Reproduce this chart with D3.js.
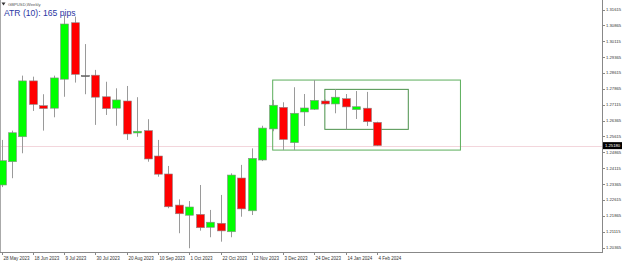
<!DOCTYPE html>
<html>
<head>
<meta charset="utf-8">
<script src="https://cdn.jsdelivr.net/npm/d3@7"></script>
<style>
  body { margin: 0; background: #fff; }
  svg { display: block; font-family: 'Liberation Sans', Arial, sans-serif; }
</style>
</head>
<body>
<div id="chart"></div>
<script>
// weekly GBPUSD bars
var opens  = [1.2332,1.2442,1.2560,1.2824,1.2707,1.2695,1.2832,1.3099,1.2849,1.2851,1.2749,1.2695,1.2729,1.2578,1.2589,1.2469,1.2384,1.2237,1.2189,1.2193,1.2132,1.2151,1.2111,1.2365,1.2210,1.2450,1.2597,1.2699,1.2532,1.2677,1.2690,1.2729,1.2715,1.2740,1.2688,1.2695,1.2628];
var highs  = [1.2545,1.2589,1.2849,1.2844,1.2761,1.2849,1.3136,1.3128,1.2998,1.2876,1.2820,1.2789,1.2800,1.2747,1.2643,1.2545,1.2422,1.2264,1.2256,1.2332,1.2214,1.2285,1.2387,1.2427,1.2505,1.2612,1.2734,1.2723,1.2794,1.2762,1.2828,1.2736,1.2784,1.2762,1.2776,1.2772,1.2631];
var lows   = [1.2322,1.2364,1.2482,1.2682,1.2589,1.2652,1.2749,1.2816,1.2761,1.2616,1.2663,1.2612,1.2545,1.2560,1.2442,1.2371,1.2222,1.2104,1.2033,1.2116,1.2085,1.2064,1.2085,1.2182,1.2190,1.2445,1.2586,1.2497,1.2497,1.2611,1.2687,1.2710,1.2671,1.2595,1.2644,1.2611,1.2516];
var closes = [1.2447,1.2579,1.2824,1.2713,1.2693,1.2838,1.3093,1.2855,1.2849,1.2747,1.2693,1.2734,1.2573,1.2586,1.2455,1.2383,1.2229,1.2196,1.2228,1.2130,1.2156,1.2115,1.2379,1.2219,1.2458,1.2601,1.2709,1.2547,1.2671,1.2696,1.2732,1.2715,1.2747,1.2701,1.2702,1.2631,1.2518];

// date labels every 3 bars
var dateLabels = ["28 May 2023","18 Jun 2023","9 Jul 2023","30 Jul 2023","20 Aug 2023","10 Sep 2023","1 Oct 2023","22 Oct 2023","12 Nov 2023","3 Dec 2023","24 Dec 2023","14 Jan 2024","4 Feb 2024"];
var priceTicks = [1.20365,1.21115,1.21865,1.22615,1.23365,1.24115,1.24865,1.25615,1.26365,1.27115,1.27865,1.28615,1.29365,1.30115,1.30865,1.31615];

// boxes drawn on the chart: [fromBar, toBar, top price, bottom price]
var boxOuter = [26, 44, 1.2828, 1.2497];
var boxInner = [31, 39, 1.2784, 1.2595];

var atrText = "ATR (10): 165 pips";
var symbolText = "GBPUSD,Weekly";

var width = 625, height = 263;
var plotRight = 602, plotBottom = 252;

var svg = d3.select("#chart").append("svg")
    .attr("width", width)
    .attr("height", height);

var x = d3.scaleLinear().domain([0, 36]).range([1.5, 377]);
var y = d3.scaleLinear().domain([1.20365, 1.31615]).range([247.5, 9.5]);

var bars = opens.map(function(o, i) {
    return {i: i, o: o, h: highs[i], l: lows[i], c: closes[i]};
});

// frame
svg.append("line")
    .attr("x1", 0.5).attr("x2", 0.5).attr("y1", 0).attr("y2", plotBottom)
    .style("stroke", "#aaa");
svg.append("line")
    .attr("x1", 0).attr("x2", plotRight).attr("y1", plotBottom + 0.5).attr("y2", plotBottom + 0.5)
    .style("stroke", "#888");
svg.append("line")
    .attr("x1", plotRight + 0.5).attr("x2", plotRight + 0.5).attr("y1", 0).attr("y2", plotBottom + 1)
    .style("stroke", "#888");

// bid line
var last = closes[closes.length - 1];
svg.append("line")
    .attr("x1", 1).attr("x2", plotRight)
    .attr("y1", Math.round(y(last)) + 0.5).attr("y2", Math.round(y(last)) + 0.5)
    .style("stroke", "#f3d6dc");

// boxes
function drawBox(b, color) {
    svg.append("rect")
        .attr("x", x(b[0]))
        .attr("y", y(b[2]))
        .attr("width", x(b[1]) - x(b[0]))
        .attr("height", y(b[3]) - y(b[2]))
        .style("fill", "none")
        .style("stroke", color)
        .style("stroke-width", 1);
}
drawBox(boxOuter, "#5cae5c");
drawBox(boxInner, "#4a904a");

// candles
var g = svg.selectAll(".bar")
    .data(bars)
    .enter().append("g")
    .attr("class", "bar");

g.append("line")
    .attr("x1", function(d) { return Math.round(x(d.i)) + 0.5; })
    .attr("x2", function(d) { return Math.round(x(d.i)) + 0.5; })
    .attr("y1", function(d) { return y(d.h); })
    .attr("y2", function(d) { return y(d.l); })
    .style("stroke", "#9a9a9a")
    .style("stroke-width", 1);

g.append("rect")
    .attr("x", function(d) { return Math.round(x(d.i)) - 3.5; })
    .attr("y", function(d) { return y(Math.max(d.o, d.c)); })
    .attr("width", 8)
    .attr("height", function(d) { return Math.max(1, Math.abs(y(d.o) - y(d.c))); })
    .style("fill", function(d) {
        if (d.c > d.o) return "#00ff00";
        else if (d.c < d.o) return "#ff0000";
        return "#666";
    })
    .style("stroke", function(d) { return d.c == d.o ? "#666" : "#8a8a8a"; })
    .style("stroke-width", 0.6);

// price axis
svg.selectAll(".ptick")
    .data(priceTicks)
    .enter().append("line")
    .attr("x1", plotRight).attr("x2", plotRight + 3)
    .attr("y1", function(d) { return Math.round(y(d)) + 0.5; })
    .attr("y2", function(d) { return Math.round(y(d)) + 0.5; })
    .style("stroke", "#888");

svg.selectAll(".plabel")
    .data(priceTicks)
    .enter().append("text")
    .attr("x", 606)
    .attr("y", function(d) { return y(d) + 1.5; })
    .style("font-size", "4.2px")
    .style("fill", "#333")
    .text(function(d) { return d.toFixed(5); });

// current price tag
svg.append("rect")
    .attr("x", 603).attr("y", y(last) - 3.5)
    .attr("width", 19).attr("height", 7)
    .style("fill", "#000");
svg.append("text")
    .attr("x", 605).attr("y", y(last) + 1.5)
    .style("font-size", "4.2px")
    .style("fill", "#fff")
    .text(last.toFixed(5));

// time axis
dateLabels.forEach(function(t, k) {
    var xi = Math.round(x(k * 3));
    svg.append("line")
        .attr("x1", xi + 0.5).attr("x2", xi + 0.5)
        .attr("y1", plotBottom).attr("y2", plotBottom + 3)
        .style("stroke", "#888");
    svg.append("text")
        .attr("x", xi + 1.5)
        .attr("y", 260)
        .style("font-size", "4.5px")
        .style("fill", "#333")
        .text(t);
});

// header texts
svg.append("path")
    .attr("d", "M1.5,2.5 L5.5,2.5 L3.5,5.5 Z")
    .style("fill", "#333");
svg.append("text")
    .attr("x", 8).attr("y", 5.5)
    .style("font-size", "4.2px")
    .style("fill", "#555")
    .text(symbolText);
svg.append("text")
    .attr("x", 4).attr("y", 16)
    .style("font-size", "8.6px")
    .style("fill", "#2b37a3")
    .text(atrText);
</script>
</body>
</html>
